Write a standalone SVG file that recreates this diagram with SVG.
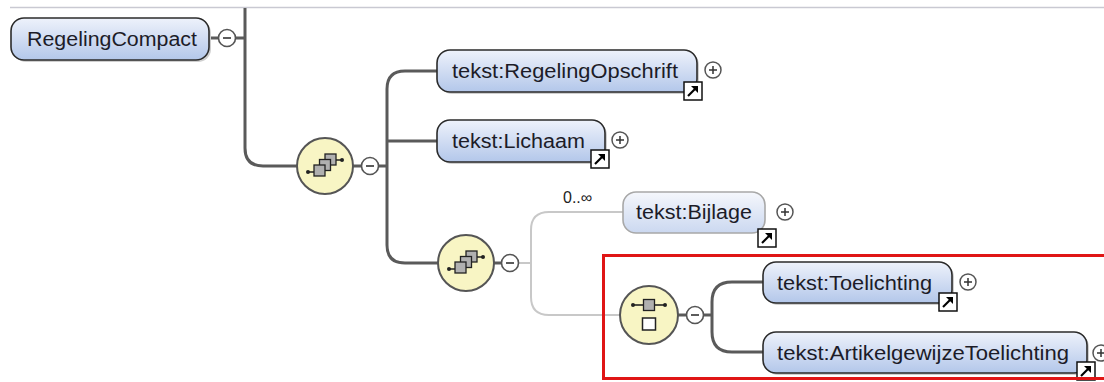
<svg xmlns="http://www.w3.org/2000/svg" width="1104" height="382" viewBox="0 0 1104 382">
<defs>
<linearGradient id="g" x1="0" y1="0" x2="0" y2="1">
<stop offset="0" stop-color="#eef2fb"/>
<stop offset="1" stop-color="#b3c7ea"/>
</linearGradient>
<linearGradient id="gl" x1="0" y1="0" x2="0" y2="1">
<stop offset="0" stop-color="#f5f7fc"/>
<stop offset="1" stop-color="#cbd8f0"/>
</linearGradient>
<g id="seqIcon">
<circle r="28" fill="#f8f5c4" stroke="#555" stroke-width="2"/>
<path d="M-17,6 H-10 M10,-6 H17" stroke="#222" stroke-width="1.6" fill="none"/>
<circle cx="-17" cy="6" r="2" fill="#222"/>
<circle cx="17" cy="-6" r="2" fill="#222"/>
<rect x="0" y="-12" width="11" height="11" fill="#b0b0b0" stroke="#222" stroke-width="1.3"/>
<rect x="-5.5" y="-6.5" width="11" height="11" fill="#b0b0b0" stroke="#222" stroke-width="1.3"/>
<rect x="-11" y="-1" width="11" height="11" fill="#b0b0b0" stroke="#222" stroke-width="1.3"/>
</g>
<g id="minus">
<circle r="8.5" fill="#fff" stroke="#555" stroke-width="1.6"/>
<path d="M-4,0 H4" stroke="#333" stroke-width="1.6"/>
</g>
<g id="plus">
<circle r="8" fill="#fff" stroke="#555" stroke-width="1.5"/>
<path d="M-4,0 H4 M0,-4 V4" stroke="#333" stroke-width="1.5"/>
</g>
<g id="ref">
<rect x="0" y="0" width="18" height="18" fill="#fff" stroke="#111" stroke-width="1.5"/>
<path d="M4,14 L12,6" stroke="#000" stroke-width="2.2"/>
<path d="M7,4 H14 V11 Z" fill="#000"/>
</g>
</defs>
<style>
.node{fill:url(#g);stroke:#2b2b2b;stroke-width:1.6}
.opt{fill:url(#gl);stroke:#a8a8a8;stroke-width:1.6}
.shadow{fill:#cfcfcf}
.lbl{font-family:"Liberation Sans",Arial,sans-serif;font-size:20px;fill:#1c1c28}
.conn{fill:none;stroke:#5a5a5a;stroke-width:3}
.connl{fill:none;stroke:#c8c8c8;stroke-width:2}
</style>
<rect width="1104" height="382" fill="#fff"/>
<line x1="10" y1="7.5" x2="1104" y2="7.5" stroke="#c9c9d2" stroke-width="1.5"/>

<g id="connectors">
<path class="conn" d="M245,8 V148 Q245,166 263,166 H297"/>
<path class="conn" d="M353,166 H362 M378,166 H387"/>
<path class="conn" d="M437,71 H405 Q387,71 387,89 V245 Q387,263 405,263 H438"/>
<path class="conn" d="M387,141 H437"/>
<path class="conn" d="M494,263 H502"/>
<path class="connl" d="M518,263 H531"/>
<path class="connl" d="M623,212 H549 Q531,212 531,230 V297 Q531,315 549,315 H620"/>
<path class="conn" d="M678,315 H687"/>
<path class="conn" d="M703,315 H712"/>
<path class="conn" d="M763,282 H732 Q712,282 712,302 V332 Q712,352 732,352 H763"/>
<path class="conn" d="M208,38 H219 M235,38 H245"/>
</g>

<g id="RegelingCompact">
<rect class="shadow" x="13" y="20" width="198" height="42" rx="13"/>
<rect class="node" x="11" y="18" width="198" height="42" rx="13"/>
<text class="lbl" x="27" y="46" textLength="170" lengthAdjust="spacingAndGlyphs">RegelingCompact</text>
<use href="#minus" x="227" y="38"/>
</g>

<g id="seq1">
<use href="#seqIcon" x="325" y="166"/>
<use href="#minus" x="370" y="166"/>
</g>

<g id="RegelingOpschrift">
<rect class="shadow" x="439" y="52" width="260" height="42" rx="13"/>
<rect class="node" x="437" y="50" width="260" height="42" rx="13"/>
<text class="lbl" x="452" y="78" textLength="226" lengthAdjust="spacingAndGlyphs">tekst:RegelingOpschrift</text>
<use href="#ref" x="684" y="82"/>
<use href="#plus" x="713" y="70"/>
</g>

<g id="Lichaam">
<rect class="shadow" x="439" y="122" width="168" height="42" rx="13"/>
<rect class="node" x="437" y="120" width="168" height="42" rx="13"/>
<text class="lbl" x="452" y="148" textLength="133" lengthAdjust="spacingAndGlyphs">tekst:Lichaam</text>
<use href="#ref" x="591" y="150"/>
<use href="#plus" x="620" y="140"/>
</g>

<g id="seq2">
<use href="#seqIcon" x="466" y="263"/>
<use href="#minus" x="510" y="263"/>
</g>

<g id="Bijlage">
<text x="563" y="203" font-family="Liberation Sans, Arial, sans-serif" font-size="16" fill="#222">0..∞</text>
<rect class="opt" x="623" y="192" width="142" height="41" rx="13"/>
<text class="lbl" x="636" y="219" textLength="116" lengthAdjust="spacingAndGlyphs">tekst:Bijlage</text>
<use href="#ref" x="758" y="229"/>
<use href="#plus" x="785" y="212"/>
</g>

<g id="choice">
<circle cx="649" cy="315" r="29" fill="#f8f5c4" stroke="#555" stroke-width="2"/>
<path d="M633,305 H665" stroke="#222" stroke-width="1.6"/>
<circle cx="633" cy="305" r="2" fill="#222"/>
<circle cx="665" cy="305" r="2" fill="#222"/>
<rect x="643.5" y="299.5" width="11" height="11" fill="#b0b0b0" stroke="#222" stroke-width="1.3"/>
<rect x="642.5" y="318" width="13" height="12" fill="#fff" stroke="#222" stroke-width="1.5"/>
<use href="#minus" x="695" y="315"/>
</g>

<g id="Toelichting">
<rect class="shadow" x="765" y="264" width="189" height="41" rx="13"/>
<rect class="node" x="763" y="262" width="189" height="41" rx="13"/>
<text class="lbl" x="777" y="290" textLength="155" lengthAdjust="spacingAndGlyphs">tekst:Toelichting</text>
<use href="#ref" x="939" y="293"/>
<use href="#plus" x="968" y="282"/>
</g>

<g id="ArtikelgewijzeToelichting">
<rect class="shadow" x="765" y="334" width="324" height="41" rx="13"/>
<rect class="node" x="763" y="332" width="324" height="41" rx="13"/>
<text class="lbl" x="777" y="360" textLength="292" lengthAdjust="spacingAndGlyphs">tekst:ArtikelgewijzeToelichting</text>
<use href="#ref" x="1077" y="362"/>
<use href="#plus" x="1101" y="353"/>
</g>

<rect id="highlight" x="603.5" y="255.5" width="520" height="123" fill="none" stroke="#e01515" stroke-width="3"/>
</svg>
